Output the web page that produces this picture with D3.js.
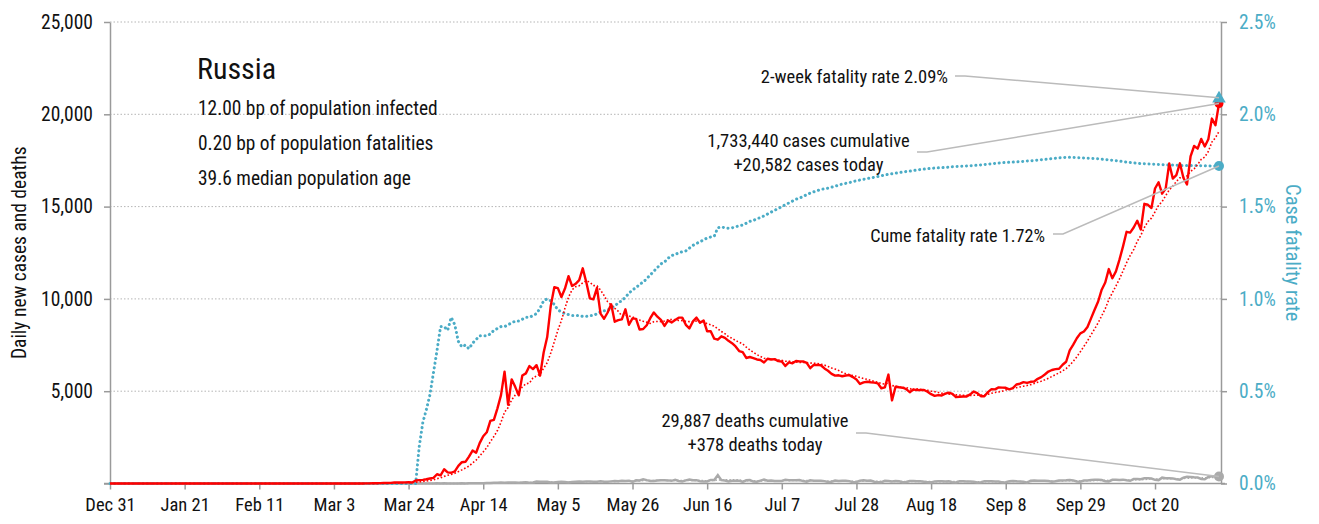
<!DOCTYPE html>
<html>
<head>
<meta charset="utf-8">
<script src="https://cdn.jsdelivr.net/npm/d3@7"></script>
<style>
	body { margin: 0; background: #fff; }
	svg text { font-family: 'Roboto Condensed', 'Liberation Sans Narrow', 'Arial Narrow', 'DejaVu Sans Condensed', sans-serif; font-stretch: condensed; fill: #111; }
</style>
</head>
<body>
<div id="chart"></div>
<script>

/* chart dates run Dec 31, 2019 .. Nov 7, 2020, one value per day */
var startDate = '2019-12-31'

// daily new cases, one array per month
var casesDec = [0]
var casesJan = [0,0,0,0,0,0,0,0,0,0,0,0,0,0,0,0,0,0,0,0,0,0,0,0,0,0,0,0,0,0,0]
var casesFeb = [2,0,0,0,0,0,0,0,0,0,0,0,0,0,0,0,0,0,0,0,0,0,0,0,0,0,0,0,0]
var casesMar = [0,0,1,0,0,0,1,6,3,0,3,8,6,14,14,18,27,24,33,52,54,53,61,71,57,163,182,196,228,270,302]
var casesApr = [501,440,771,601,582,658,954,1154,1175,1459,1786,1667,2186,2558,2774,3388,3448,4070,4785,6060,4268,5642,5236,4774,5849,5966,6361,6198,6411,5841]
var casesMay = [7099,7933,9623,10633,10581,10102,10559,11231,10699,10817,11012,11656,10899,10028,9974,10598,9200,8926,9263,9709,8764,8849,8894,9434,8599,8946,8915,8338,8371,8572,8952]
var casesJun = [9268,9035,8863,8536,8831,8726,8855,8984,8985,8595,8404,8779,8987,8706,8835,8246,8248,7843,7790,7972,7889,7728,7600,7425,7176,7113,6800,6852,6791,6719]
var casesJul = [6693,6556,6760,6718,6736,6632,6611,6368,6562,6509,6635,6615,6611,6537,6248,6422,6428,6406,6234,6109,5940,5842,5862,5811,5848,5871,5765,5635,5395,5475,5509]
var casesAug = [5482,5462,5427,5159,5204,5900,4500,5241,5212,5189,5118,4945,5102,5057,5061,5065,4969,4839,4748,4790,4767,4870,4921,4852,4676,4696,4711,4712,4829,4980,4897]
var casesSep = [4729,4729,4952,5110,5099,5205,5195,5185,5099,5172,5363,5406,5488,5449,5509,5529,5670,5762,5905,6065,6148,6196,6215,6431,6595,7212,7523,7867,8135,8232]
var casesOct = [8481,8945,9412,9859,10499,10888,11615,11115,11493,12126,12846,13634,13592,13868,14231,13754,15150,15099,14922,15982,16319,15700,15971,17340,16521,16710,17347,16550,16202,17717,18283]
var casesNov = [18140,18665,18257,18648,19768,19404,20582]

// daily deaths
var deathsDec = [0]
var deathsJan = [0,0,0,0,0,0,0,0,0,0,0,0,0,0,0,0,0,0,0,0,0,0,0,0,0,0,0,0,0,0,0]
var deathsFeb = [0,0,0,0,0,0,0,0,0,0,0,0,0,0,0,0,0,0,0,0,0,0,0,0,0,0,0,0,0]
var deathsMar = [0,0,0,0,0,0,0,0,0,0,0,0,0,0,0,0,0,0,0,1,0,0,0,0,0,1,1,1,1,4,0]
var deathsApr = [8,2,7,6,4,2,2,11,5,13,18,12,13,18,22,28,41,36,48,42,51,51,57,42,60,66,47,58,108,101]
var deathsMay = [95,96,57,58,76,98,86,58,88,98,104,94,107,107,96,93,119,94,91,115,135,127,150,139,153,92,174,161,232,181,138]
var deathsJun = [138,162,182,178,169,144,197,134,112,171,216,174,181,119,114,113,193,194,450,181,161,109,153,154,154,92,176,188,104,93]
var deathsJul = [154,216,147,168,135,134,135,198,173,175,174,188,130,95,175,153,147,155,129,85,95,165,141,147,150,129,70,85,147,169,150]
var deathsAug = [161,95,70,70,144,129,114,129,122,70,77,130,129,117,116,93,68,61,115,119,120,110,121,68,60,123,117,113,109,98,57]
var deathsSep = [73,117,123,121,110,108,56,71,122,131,119,112,92,48,150,160,144,146,150,132,100,122,160,169,173,186,169,108,98,160]
var deathsOct = [169,186,201,200,186,117,114,197,202,186,209,174,147,239,244,232,286,279,265,198,184,317,286,283,277,229,207,320,366,355,334]
var deathsNov = [320,245,233,355,389,386,378]

// cumulative case fatality rate, percent
var cfrDec = [0]
var cfrJan = [0,0,0,0,0,0,0,0,0,0,0,0,0,0,0,0,0,0,0,0,0,0,0,0,0,0,0,0,0,0,0]
var cfrFeb = [0,0,0,0,0,0,0,0,0,0,0,0,0,0,0,0,0,0,0,0,0,0,0,0,0,0,0,0,0]
var cfrMar = [0,0,0,0,0,0,0,0,0,0,0,0,0,0,0,0,0,0,0,0,0,0,0,0,0,0,0.20,0.33,0.40,0.48,0.60]
var cfrApr = [0.72,0.85,0.85,0.83,0.90,0.86,0.77,0.74,0.75,0.73,0.76,0.78,0.80,0.80,0.80,0.81,0.83,0.84,0.85,0.85,0.86,0.87,0.88,0.88,0.89,0.90,0.90,0.91,0.92,0.95]
var cfrMay = [0.99,1.00,0.99,0.97,0.94,0.93,0.92,0.915,0.91,0.91,0.91,0.905,0.905,0.91,0.91,0.92,0.93,0.935,0.94,0.95,0.96,0.98,0.99,1.01,1.03,1.05,1.06,1.08,1.09,1.11,1.13]
var cfrJun = [1.15,1.17,1.19,1.20,1.22,1.235,1.24,1.25,1.255,1.26,1.275,1.29,1.30,1.31,1.32,1.33,1.335,1.34,1.385,1.39,1.385,1.383,1.385,1.39,1.396,1.40,1.41,1.42,1.425,1.435]
var cfrJul = [1.44,1.45,1.46,1.47,1.48,1.49,1.50,1.51,1.52,1.53,1.54,1.546,1.555,1.565,1.573,1.58,1.587,1.592,1.597,1.60,1.605,1.61,1.617,1.622,1.626,1.63,1.635,1.64,1.644,1.648,1.652]
var cfrAug = [1.655,1.659,1.663,1.667,1.671,1.675,1.678,1.681,1.684,1.687,1.69,1.692,1.695,1.698,1.701,1.703,1.705,1.707,1.709,1.71,1.711,1.712,1.714,1.716,1.717,1.718,1.719,1.72,1.721,1.723,1.724]
var cfrSep = [1.726,1.728,1.73,1.732,1.734,1.736,1.738,1.739,1.74,1.741,1.742,1.744,1.745,1.747,1.748,1.75,1.752,1.754,1.756,1.758,1.76,1.762,1.764,1.766,1.767,1.767,1.766,1.765,1.764,1.763]
var cfrOct = [1.762,1.761,1.76,1.759,1.757,1.755,1.753,1.751,1.749,1.747,1.744,1.741,1.739,1.737,1.735,1.733,1.732,1.731,1.73,1.729,1.728,1.727,1.726,1.725,1.725,1.724,1.723,1.723,1.723,1.722,1.722]
var cfrNov = [1.722,1.721,1.721,1.721,1.72,1.72,1.72]

var twoWeekRate = 2.09
var caseTicks = [0, 5000, 10000, 15000, 20000, 25000]
var rateTicks = [0, 0.5, 1.0, 1.5, 2.0, 2.5]
var dateTicks = ['2019-12-31', '2020-01-21', '2020-02-11', '2020-03-03', '2020-03-24', '2020-04-14', '2020-05-05',
	'2020-05-26', '2020-06-16', '2020-07-07', '2020-07-28', '2020-08-18', '2020-09-08', '2020-09-29', '2020-10-20']

var country = 'Russia'
var stats = ['12.00 bp of population infected', '0.20 bp of population fatalities', '39.6 median population age']
var casesNote = ['1,733,440 cases cumulative', '+20,582 cases today']
var deathsNote = ['29,887 deaths cumulative', '+378 deaths today']

var cases = [].concat(casesDec, casesJan, casesFeb, casesMar, casesApr, casesMay, casesJun, casesJul, casesAug, casesSep, casesOct, casesNov)
var deaths = [].concat(deathsDec, deathsJan, deathsFeb, deathsMar, deathsApr, deathsMay, deathsJun, deathsJul, deathsAug, deathsSep, deathsOct, deathsNov)
var cfr = [].concat(cfrDec, cfrJan, cfrFeb, cfrMar, cfrApr, cfrMay, cfrJun, cfrJul, cfrAug, cfrSep, cfrOct, cfrNov)

var parse = d3.utcParse('%Y-%m-%d')
var day0 = parse(startDate)
var dates = cases.map(function (v, i) { return d3.utcDay.offset(day0, i) })

/* trailing 7 day mean of a daily series */
function trailingMean(values, n) {
	return values.map(function (v, i) {
		return d3.mean(values.slice(Math.max(0, i - n + 1), i + 1))
	})
}
var casesAvg = trailingMean(cases, 7)
var deathsAvg = trailingMean(deaths, 7)

var width = 1319, height = 524
var margin = { left: 110, right: 99, top: 22, bottom: 40.5 }
var teal = '#4bacc6'
var last = cases.length - 1

var svg = d3.select('#chart').append('svg')
	.attr('width', width)
	.attr('height', height)

var x = d3.scaleUtc()
	.domain([day0, dates[last]])
	.range([margin.left, width - margin.right - 1])
var y = d3.scaleLinear()
	.domain([0, 25000])
	.range([height - margin.bottom, margin.top])
var y2 = d3.scaleLinear()
	.domain([0, 2.5])
	.range([height - margin.bottom, margin.top])

var axisX = width - margin.right + 1
var baseY = height - margin.bottom

// dotted grid
svg.append('g')
	.selectAll('line')
	.data(caseTicks.slice(1))
	.join('line')
	.attr('x1', margin.left)
	.attr('x2', axisX)
	.attr('y1', function (d) { return y(d) })
	.attr('y2', function (d) { return y(d) })
	.attr('stroke', '#b5b5b5')
	.attr('stroke-width', 1)
	.attr('stroke-dasharray', '1.5,2')

// axes
var leftAxis = svg.append('g')
	.attr('transform', 'translate(' + margin.left + ',0)')
	.call(d3.axisLeft(y).tickValues(caseTicks).tickSize(6).tickSizeOuter(0).tickPadding(11)
		.tickFormat(function (d) { return d == 0 ? '' : d3.format(',')(d) }))

var rightAxis = svg.append('g')
	.attr('transform', 'translate(' + axisX + ',0)')
	.call(d3.axisRight(y2).tickValues(rateTicks).tickSize(6).tickSizeOuter(0).tickPadding(12)
		.tickFormat(function (d) { return d.toFixed(1) + '%' }))

var bottomAxis = svg.append('g')
	.attr('transform', 'translate(0,' + baseY + ')')
	.call(d3.axisBottom(x).tickValues(dateTicks.map(parse)).tickSize(6).tickSizeOuter(0).tickPadding(8)
		.tickFormat(d3.utcFormat('%b %-d')))
bottomAxis.select('.domain').remove()
bottomAxis.append('line')
	.attr('x1', margin.left - 6)
	.attr('x2', axisX + 4)
	.attr('stroke', '#9a9a9a')
	.attr('stroke-width', 1.5)

svg.selectAll('.domain, .tick line')
	.attr('stroke', '#9a9a9a')
	.attr('stroke-width', 1.5)
svg.selectAll('.tick text')
	.attr('font-size', 19.5)
	.style('fill', '#111')
bottomAxis.selectAll('.tick text').attr('font-size', 18.5)
rightAxis.selectAll('.tick text').style('fill', teal)

// axis titles
svg.append('text')
	.attr('transform', 'translate(26,' + (margin.top + baseY) / 2 + ') rotate(-90)')
	.attr('text-anchor', 'middle')
	.attr('font-size', 19.5)
	.text('Daily new cases and deaths')

svg.append('text')
	.attr('transform', 'translate(1286,' + (margin.top + baseY) / 2 + ') rotate(90)')
	.attr('text-anchor', 'middle')
	.attr('font-size', 20.5)
	.style('fill', teal)
	.text('Case fatality rate')

// series
function lineOf(scale, values) {
	return d3.line()
		.x(function (d, i) { return x(dates[i]) })
		.y(function (d) { return scale(d) })(values)
}

svg.append('path')
	.attr('d', lineOf(y, deathsAvg))
	.attr('fill', 'none')
	.attr('stroke', '#aaaaaa')
	.attr('stroke-width', 1.5)
	.attr('stroke-dasharray', '1.5,2')

svg.append('path')
	.attr('d', lineOf(y, deaths))
	.attr('fill', 'none')
	.attr('stroke', '#aaaaaa')
	.attr('stroke-width', 2.5)

svg.append('path')
	.attr('d', lineOf(y2, cfr))
	.attr('fill', 'none')
	.attr('stroke', teal)
	.attr('stroke-width', 3)
	.attr('stroke-linecap', 'round')
	.attr('stroke-dasharray', '0.1,4.6')

svg.append('path')
	.attr('d', lineOf(y, casesAvg))
	.attr('fill', 'none')
	.attr('stroke', '#ff0000')
	.attr('stroke-width', 1.6)
	.attr('stroke-dasharray', '1.6,2')

svg.append('path')
	.attr('d', lineOf(y, cases))
	.attr('fill', 'none')
	.attr('stroke', '#ff0000')
	.attr('stroke-width', 2.4)
	.attr('stroke-linejoin', 'round')

// end markers
var endX = x(dates[last])
svg.append('circle')
	.attr('cx', endX).attr('cy', y(deaths[last])).attr('r', 5)
	.attr('fill', '#aaaaaa')
svg.append('circle')
	.attr('cx', endX).attr('cy', y2(cfr[last])).attr('r', 5)
	.attr('fill', teal)
svg.append('circle')
	.attr('cx', endX).attr('cy', y(cases[last])).attr('r', 4.5)
	.attr('fill', '#ff0000')
svg.append('path')
	.attr('transform', 'translate(' + endX + ',' + (y2(twoWeekRate) + 1) + ')')
	.attr('d', d3.symbol().type(d3.symbolTriangle).size(80)())
	.attr('fill', teal)

// annotations with leader lines
function leader(x0, y0, ty) {
	svg.append('polyline')
		.attr('points', [[x0, y0], [x0 + 10, y0], [endX, ty]].join(' '))
		.attr('fill', 'none')
		.attr('stroke', '#bbbbbb')
		.attr('stroke-width', 1.5)
}

leader(955, 76, y2(twoWeekRate))
leader(917, 152, y(cases[last]))
leader(1053, 234, y2(cfr[last]))
leader(856, 433, y(deaths[last]))

svg.append('text')
	.attr('x', 948).attr('y', 83)
	.attr('text-anchor', 'end')
	.attr('font-size', 18.5)
	.text('2-week fatality rate ' + twoWeekRate.toFixed(2) + '%')

svg.append('text')
	.attr('x', 1045).attr('y', 241.5)
	.attr('text-anchor', 'end')
	.attr('font-size', 18.2)
	.text('Cume fatality rate ' + cfr[last].toFixed(2) + '%')

svg.append('g')
	.selectAll('text')
	.data(casesNote)
	.join('text')
	.attr('x', 808.5)
	.attr('y', function (d, i) { return 147 + i * 23.5 })
	.attr('text-anchor', 'middle')
	.attr('font-size', 18.5)
	.text(function (d) { return d })

svg.append('g')
	.selectAll('text')
	.data(deathsNote)
	.join('text')
	.attr('x', 755)
	.attr('y', function (d, i) { return 427 + i * 23.5 })
	.attr('text-anchor', 'middle')
	.attr('font-size', 18.5)
	.text(function (d) { return d })

// country block
svg.append('text')
	.attr('x', 197).attr('y', 79)
	.attr('font-size', 30)
	.text(country)

svg.append('g')
	.selectAll('text')
	.data(stats)
	.join('text')
	.attr('x', 198)
	.attr('y', function (d, i) { return 115 + i * 35 })
	.attr('font-size', 19.4)
	.text(function (d) { return d })

</script>
</body>
</html>
